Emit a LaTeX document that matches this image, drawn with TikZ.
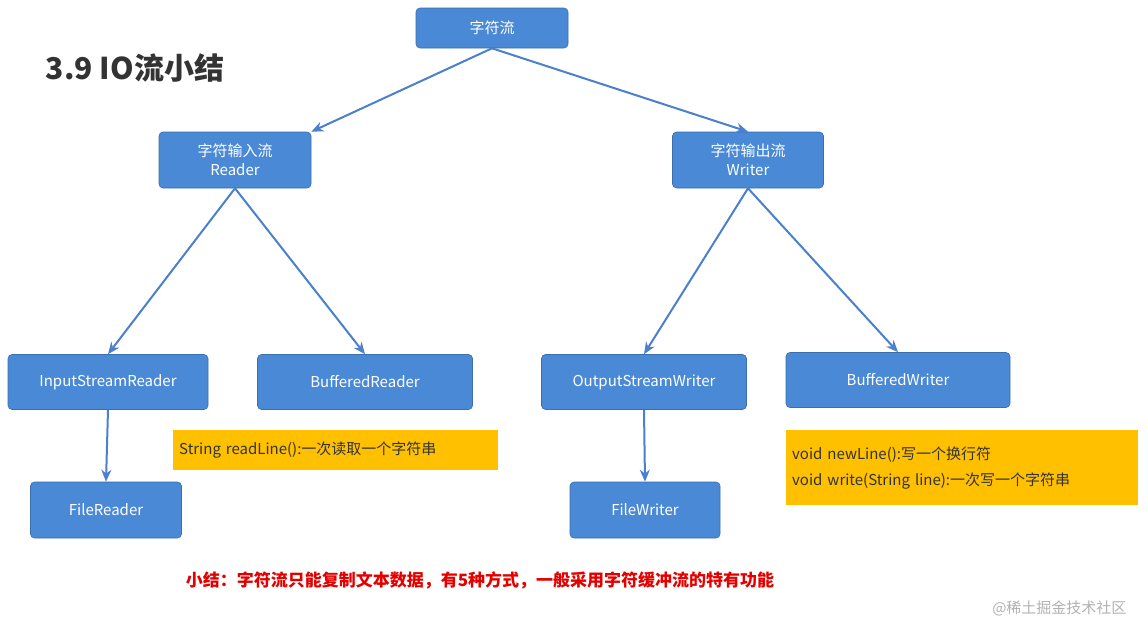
\documentclass[tikz,border=0pt]{standalone}
\usepackage{fontspec}
\setmainfont{Noto Sans CJK SC}
\usetikzlibrary{arrows.meta}
\definecolor{bx}{HTML}{4A89D6}
\definecolor{ln}{HTML}{4A80CC}
\definecolor{og}{HTML}{FFC000}
\tikzset{
 box/.style={draw=bx!80!black,line width=0.6pt,fill=bx,rounded corners=4pt,text=white,font=\fontsize{15}{19}\selectfont,align=center,inner sep=0pt},
 note/.style={fill=og,anchor=north west,font=\fontsize{15}{26}\selectfont,align=left,inner sep=0pt,text=black!80},
 arr/.style={draw=ln,line width=2pt,-{Stealth[length=12pt,width=10pt]}}
}
\begin{document}
\begin{tikzpicture}[x=1pt,y=-1pt]
\useasboundingbox (0,0) rectangle (1148,632);
\fill[white] (0,0) rectangle (1148,632);
\node[font=\fontsize{30}{34}\selectfont\bfseries,text=black!80] (title) at (135,68) {3.9 IO流小结};
\node[box,minimum width=152,minimum height=40] (root) at (492,28) {字符流};
\node[box,minimum width=152,minimum height=56] (rd) at (235,160) {字符输入流\\Reader};
\node[box,minimum width=151,minimum height=56] (wr) at (748,160) {字符输出流\\Writer};
\node[box,minimum width=200,minimum height=55] (isr) at (108,382) {InputStreamReader};
\node[box,minimum width=215,minimum height=55] (br) at (365,382) {BufferedReader};
\node[box,minimum width=205,minimum height=55] (osw) at (644,382) {OutputStreamWriter};
\node[box,minimum width=224,minimum height=55] (bw) at (898,380) {BufferedWriter};
\node[box,minimum width=151,minimum height=56] (fr) at (106,510) {FileReader};
\node[box,minimum width=150,minimum height=56] (fw) at (645,510) {FileWriter};
\node[note,minimum width=325,minimum height=40,text width=313,inner xsep=6pt] (n1) at (173,430) {String readLine():一次读取一个字符串};
\node[note,minimum width=352,minimum height=75,text width=340,inner xsep=6pt,inner ysep=8pt] (n2) at (786,430) {void newLine():写一个换行符\\void write(String line):一次写一个字符串};
\node[font=\fontsize{17}{20}\selectfont\bfseries,text=red!90!black] (sum) at (480,580) {小结：字符流只能复制文本数据，有5种方式，一般采用字符缓冲流的特有功能};
\node[font=\fontsize{15}{18}\selectfont,text=gray!60,anchor=east] (wm) at (1130,608) {@稀土掘金技术社区};
\path[arr] (root.south) -- (rd.north east);
\path[arr] (root.south) -- (wr.north);
\path[arr] (rd.south) -- (isr.north);
\path[arr] (rd.south) -- (br.north);
\path[arr] (wr.south) -- (osw.north);
\path[arr] (wr.south) -- (bw.north);
\path[arr] (isr.south) -- (fr.north);
\path[arr] (osw.south) -- (fw.north);
\end{tikzpicture}
\end{document}
